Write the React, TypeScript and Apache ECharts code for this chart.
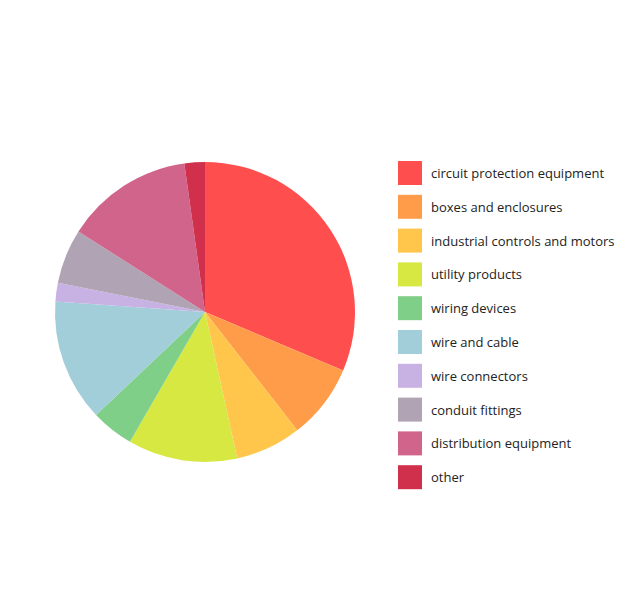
import React, { useEffect, useRef } from "react";
import * as echarts from "echarts";

const categories = [
  "circuit protection equipment",
  "boxes and enclosures",
  "industrial controls and motors",
  "utility products",
  "wiring devices",
  "wire and cable",
  "wire connectors",
  "conduit fittings",
  "distribution equipment",
  "other",
];
const values = [31.4, 8.1, 7.1, 11.8, 4.6, 13.2, 2.0, 5.9, 13.8, 2.2];
const colors = [
  "#FF4E4E",
  "#FF9C4A",
  "#FFC64B",
  "#D7E843",
  "#80CF88",
  "#A2CEDA",
  "#C8B1E3",
  "#B0A4B4",
  "#D0648A",
  "#D1304D",
];

export default function App() {
  const ref = useRef<HTMLDivElement>(null);
  useEffect(() => {
    if (!ref.current) return;
    const chart = echarts.init(ref.current, null, { renderer: "svg" });
    chart.setOption({
      animation: false,
      color: colors,
      legend: {
        orient: "vertical",
        left: 398,
        top: 161,
        padding: 0,
        itemWidth: 24,
        itemHeight: 24,
        itemGap: 9.8,
        icon: "rect",
        selectedMode: false,
        textStyle: {
          fontFamily: "Open Sans",
          fontSize: 13,
          color: "#222",
          padding: [0, 0, 0, 4],
        },
        data: categories,
      },
      series: [
        {
          type: "pie",
          center: [205, 312],
          radius: [0, 150],
          startAngle: 90,
          clockwise: true,
          label: { show: false },
          labelLine: { show: false },
          emphasis: { disabled: true },
          itemStyle: { borderWidth: 0 },
          data: categories.map((name, i) => ({ name, value: values[i] })),
        },
      ],
    });
    return () => chart.dispose();
  }, []);
  return (
    <div
      ref={ref}
      style={{ position: "fixed", left: 0, top: 0, width: 640, height: 593, background: "#fff" }}
    />
  );
}
